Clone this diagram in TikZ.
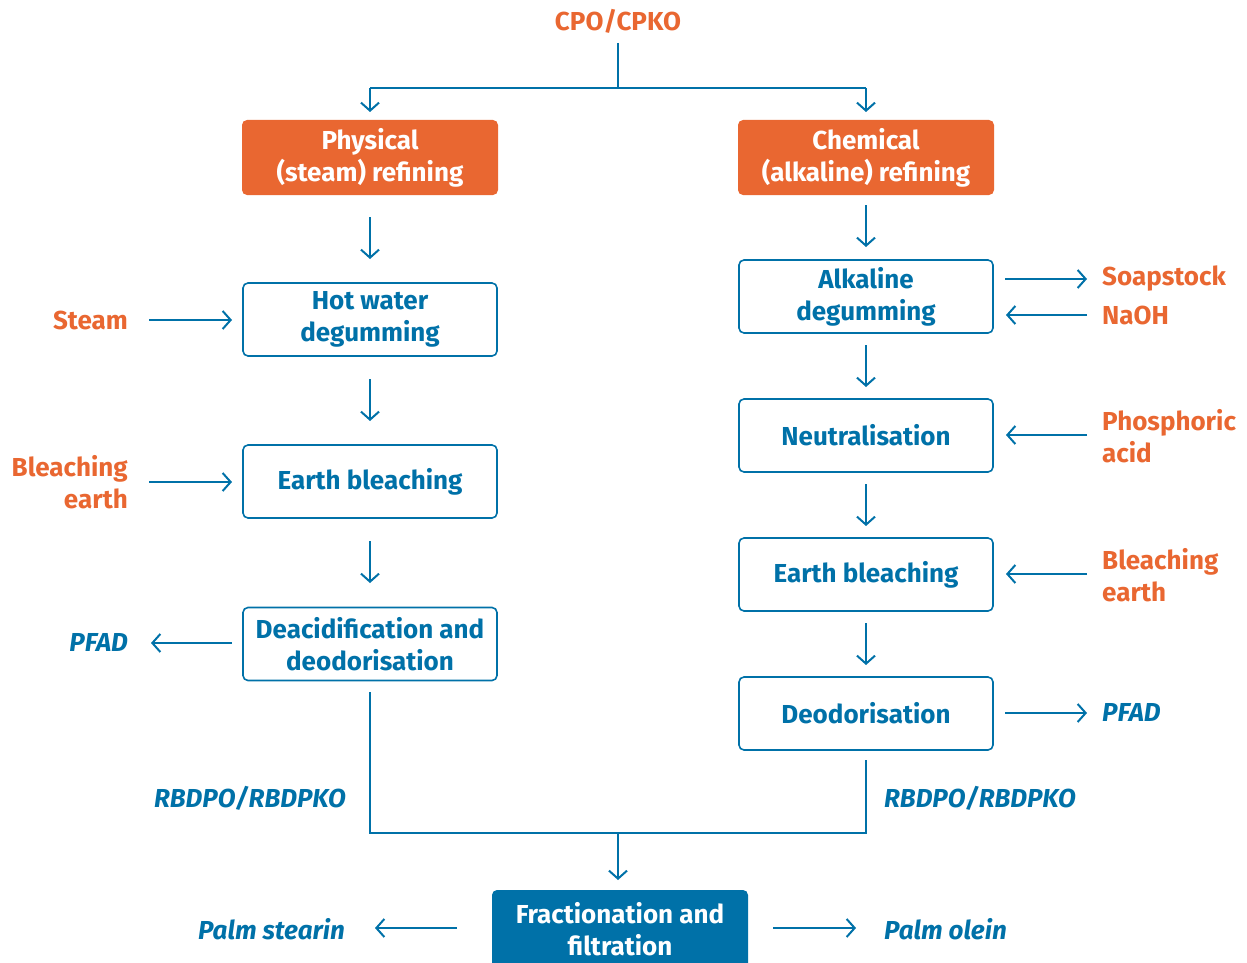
\documentclass[tikz,border=0pt]{standalone}
\usepackage{fontspec}
\setmainfont{Fira Sans}
\usetikzlibrary{arrows.meta}
\definecolor{org}{HTML}{E96731}
\definecolor{blu}{HTML}{0071A8}
\tikzset{
  every node/.style={font=\fontsize{26}{32}\selectfont\bfseries, align=center, inner sep=0pt},
  obox/.style={fill=org, text=white, rounded corners=5pt, minimum width=256pt, minimum height=75pt},
  bbox/.style={draw=blu, line width=1.6pt, text=blu, rounded corners=5pt, minimum width=254pt, minimum height=73pt},
  fbox/.style={fill=blu, text=white, rounded corners=5pt, minimum width=256pt, minimum height=78pt},
  conn/.style={draw=blu, line width=2pt},
  arr/.style={conn, -{Straight Barb[length=8pt,width=18pt,line width=2pt]}},
  olab/.style={text=org},
  blab/.style={text=blu, font=\fontsize{26}{32}\selectfont\bfseries\itshape},
}
\begin{document}
\begin{tikzpicture}[x=1pt,y=-1pt]
\useasboundingbox (0,0) rectangle (1247,963);
\begin{scope}
\clip (0,0) rectangle (1247,963);
% top
\node[olab] (cpo) at (618,21) {CPO/CPKO};
\coordinate (split) at (618,88);
\coordinate (sl) at (370,88);
\coordinate (sr) at (866,88);
\node[obox] (phys) at (370,157.5) {Physical\\(steam) refining};
\node[obox] (chem) at (866,157.5) {Chemical\\(alkaline) refining};
% left column
\node[bbox] (hot) at (370,319.5) {Hot water\\degumming};
\node[bbox] (ebl) at (370,481.5) {Earth bleaching};
\node[bbox] (deac) at (370,644) {Deacidification and\\deodorisation};
% right column
\node[bbox] (alk) at (866,296.5) {Alkaline\\degumming};
\node[bbox] (neu) at (866,435.5) {Neutralisation};
\node[bbox] (ebr) at (866,574.5) {Earth bleaching};
\node[bbox] (deo) at (866,713.5) {Deodorisation};
% bottom
\node[fbox] (frac) at (620,929) {Fractionation and\\filtration};
% side labels
\node[olab, anchor=east] (steam) at (128,320) {Steam};
\node[olab, anchor=east, align=right] (bel) at (128,482) {Bleaching\\earth};
\node[blab, anchor=east] (pfadl) at (128,642) {PFAD};
\node[olab, anchor=west] (soap) at (1102,279) {Soapstock};
\node[olab, anchor=west] (naoh) at (1102,315) {NaOH};
\node[olab, anchor=west, align=left] (phos) at (1102,436) {Phosphoric\\acid};
\node[olab, anchor=west, align=left] (ber) at (1102,575) {Bleaching\\earth};
\node[blab, anchor=west] (pfadr) at (1102,712) {PFAD};
\node[blab, anchor=east] (rbl) at (346,798) {RBDPO/RBDPKO};
\node[blab, anchor=west] (rbr) at (884,798) {RBDPO/RBDPKO};
\node[blab, anchor=east] (stearin) at (345,929) {Palm stearin};
\node[blab, anchor=west] (olein) at (884,929) {Palm olein};
% connectors top
\draw[conn] (cpo.south |- 0,43) -- (split);
\draw[conn] (sl) -- (sr);
\draw[arr] (sl) -- (phys.north |- 0,112);
\draw[arr] (sr) -- (chem.north |- 0,112);
% left vertical
\draw[arr] (370,217) -- (370,259);
\draw[arr] (370,379) -- (370,421);
\draw[arr] (370,541) -- (370,583);
% right vertical
\draw[arr] (866,205) -- (866,247);
\draw[arr] (866,345) -- (866,387);
\draw[arr] (866,484) -- (866,526);
\draw[arr] (866,623) -- (866,665);
% merge
\coordinate (ml) at (370,833);
\coordinate (mr) at (866,833);
\coordinate (mm) at (618,833);
\draw[conn] (370,692) -- (ml) -- (mr) -- (866,760);
\draw[arr] (mm) -- (618,880);
% side arrows
\draw[arr] (149,320) -- (232,320);
\draw[arr] (149,482) -- (232,482);
\draw[arr] (232,643) -- (151,643);
\draw[arr] (1005,279) -- (1087,279);
\draw[arr] (1087,315) -- (1006,315);
\draw[arr] (1087,435) -- (1006,435);
\draw[arr] (1087,574) -- (1006,574);
\draw[arr] (1005,713) -- (1087,713);
\draw[arr] (457,928) -- (375,928);
\draw[arr] (773,928) -- (856,928);
\end{scope}
\end{tikzpicture}
\end{document}
